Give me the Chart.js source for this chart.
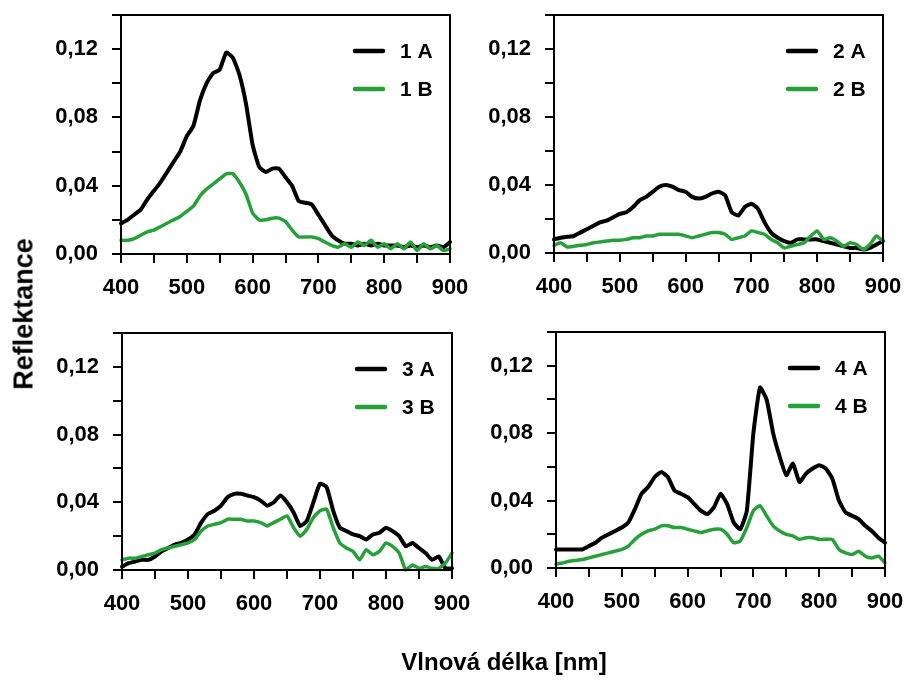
<!DOCTYPE html>
<html>
<head>
<meta charset="utf-8">
<script src="https://cdn.jsdelivr.net/npm/chart.js@4.4.1/dist/chart.umd.min.js"></script>
<style>
  html, body { margin: 0; padding: 0; background: #fff; }
  #wrap { position: relative; width: 906px; height: 680px; background: #fff; overflow: hidden; }
  #wrap canvas { position: absolute; left: 0; top: 0; }
  .ttl { position: absolute; font-family: "Liberation Sans", Arial, sans-serif; font-weight: bold; color: #000; white-space: nowrap; }
  #ytitle { font-size: 27px; left: 24px; top: 314px; transform: translate(-50%, -50%) rotate(-90deg); }
  #xtitle { font-size: 24px; left: 504px; top: 662px; transform: translate(-50%, -50%); }
</style>
</head>
<body>
<div id="wrap">
  <canvas id="c1" width="906" height="680"></canvas>
  <canvas id="c2" width="906" height="680"></canvas>
  <canvas id="c3" width="906" height="680"></canvas>
  <canvas id="c4" width="906" height="680"></canvas>
  <div id="ytitle" class="ttl">Reflektance</div>
  <div id="xtitle" class="ttl">Vlnová délka [nm]</div>
</div>
<script>
// ---------- data ----------
const wavelengths = [400,410,420,430,440,450,460,470,480,490,500,510,520,530,540,550,560,570,580,590,600,610,620,630,640,650,660,670,680,690,700,710,720,730,740,750,760,770,780,790,800,810,820,830,840,850,860,870,880,890,900];

const xTicks = [400, 500, 600, 700, 800, 900];
const yTicks = [0.00, 0.04, 0.08, 0.12];

const series1A = [0.018,0.020,0.023,0.026,0.032,0.037,0.042,0.048,0.054,0.060,0.069,0.075,0.090,0.100,0.106,0.108,0.118,0.115,0.105,0.088,0.064,0.051,0.048,0.050,0.050,0.045,0.040,0.031,0.030,0.029,0.023,0.017,0.011,0.008,0.006,0.006,0.005,0.006,0.005,0.006,0.005,0.005,0.005,0.004,0.005,0.004,0.005,0.004,0.005,0.004,0.007];
const series1B = [0.008,0.008,0.009,0.011,0.013,0.014,0.016,0.018,0.020,0.022,0.025,0.028,0.034,0.038,0.041,0.044,0.047,0.047,0.042,0.035,0.024,0.020,0.020,0.021,0.021,0.019,0.014,0.010,0.010,0.010,0.009,0.007,0.005,0.004,0.006,0.004,0.007,0.005,0.008,0.004,0.006,0.003,0.006,0.003,0.007,0.002,0.006,0.003,0.005,0.002,0.003];

const series2A = [0.008,0.009,0.0095,0.010,0.012,0.014,0.016,0.018,0.019,0.021,0.023,0.024,0.027,0.031,0.033,0.036,0.039,0.040,0.039,0.037,0.036,0.033,0.032,0.033,0.035,0.036,0.034,0.024,0.022,0.027,0.029,0.026,0.018,0.012,0.009,0.007,0.006,0.008,0.008,0.008,0.008,0.007,0.006,0.005,0.004,0.003,0.003,0.002,0.003,0.005,0.007];
const series2B = [0.0045,0.006,0.0035,0.004,0.0045,0.005,0.006,0.0065,0.007,0.0075,0.0075,0.008,0.009,0.009,0.010,0.010,0.011,0.011,0.011,0.011,0.010,0.009,0.010,0.011,0.012,0.012,0.011,0.008,0.009,0.010,0.013,0.012,0.011,0.008,0.006,0.003,0.004,0.005,0.006,0.010,0.013,0.008,0.009,0.007,0.004,0.006,0.005,0.002,0.005,0.010,0.007];

const series3A = [0.002,0.004,0.005,0.006,0.006,0.008,0.011,0.013,0.015,0.016,0.018,0.021,0.028,0.033,0.035,0.038,0.043,0.045,0.045,0.044,0.043,0.041,0.038,0.040,0.044,0.040,0.034,0.026,0.029,0.040,0.051,0.049,0.035,0.025,0.023,0.021,0.020,0.018,0.021,0.022,0.025,0.023,0.020,0.014,0.016,0.013,0.010,0.006,0.008,0.001,0.001];
const series3B = [0.006,0.007,0.007,0.008,0.009,0.010,0.012,0.013,0.014,0.015,0.016,0.018,0.023,0.026,0.027,0.028,0.030,0.030,0.030,0.029,0.029,0.028,0.026,0.028,0.030,0.032,0.025,0.020,0.024,0.031,0.035,0.036,0.025,0.016,0.013,0.011,0.006,0.012,0.009,0.011,0.016,0.014,0.010,0.000,0.003,0.001,0.002,0.001,0.001,0.004,0.010];

const series4A = [0.011,0.011,0.011,0.011,0.011,0.013,0.015,0.018,0.020,0.022,0.024,0.027,0.035,0.044,0.048,0.054,0.057,0.054,0.046,0.044,0.042,0.038,0.034,0.032,0.036,0.044,0.038,0.027,0.023,0.034,0.080,0.107,0.100,0.080,0.066,0.055,0.062,0.051,0.056,0.059,0.061,0.059,0.053,0.040,0.033,0.031,0.029,0.025,0.022,0.018,0.015];
const series4B = [0.0024,0.003,0.004,0.0045,0.005,0.006,0.007,0.008,0.009,0.010,0.011,0.013,0.017,0.020,0.022,0.023,0.025,0.025,0.024,0.024,0.023,0.022,0.021,0.022,0.023,0.023,0.020,0.015,0.016,0.024,0.034,0.037,0.031,0.025,0.022,0.020,0.019,0.017,0.018,0.018,0.017,0.017,0.017,0.011,0.009,0.008,0.010,0.007,0.006,0.007,0.003];

const panelLabels = [["1 A","1 B"],["2 A","2 B"],["3 A","3 B"],["4 A","4 B"]];
const panelSeries = [[series1A,series1B],[series2A,series2B],[series3A,series3B],[series4A,series4B]];

// ---------- layout / style ----------
const areas = [
  {l:121, t:15,  r:450, b:254},
  {l:554, t:15,  r:883, b:253},
  {l:122, t:333, r:452, b:570},
  {l:556, t:332, r:885, b:568}
];
const W = 906, H = 680, YW = 80, XH = 55;
const BLACK = '#000000', GREEN = '#26a038';
const tickFont = {family: '"Liberation Sans", Arial, sans-serif', size: 22, weight: 'bold'};

const framePlugin = {
  id: 'frame',
  afterDatasetsDraw(chart) {
    const {ctx, chartArea: a} = chart;
    ctx.save();
    ctx.strokeStyle = '#000';
    ctx.lineWidth = 2;
    ctx.strokeRect(a.left, a.top, a.right - a.left, a.bottom - a.top);
    // legend inside the plot area
    ctx.font = 'bold 21px "Liberation Sans", Arial, sans-serif';
    ctx.textBaseline = 'middle';
    ctx.textAlign = 'left';
    chart.data.datasets.forEach((ds, i) => {
      const y = a.top + 36 + i * 38;
      ctx.strokeStyle = ds.borderColor;
      ctx.lineWidth = 4.5;
      ctx.lineCap = 'round';
      ctx.beginPath();
      ctx.moveTo(a.right - 95, y);
      ctx.lineTo(a.right - 67, y);
      ctx.stroke();
      ctx.fillStyle = '#000';
      ctx.fillText(ds.label, a.right - 50, y + 1);
    });
    ctx.restore();
  }
};

function makeChart(idx) {
  const a = areas[idx];
  const [sA, sB] = panelSeries[idx];
  const [lA, lB] = panelLabels[idx];
  new Chart(document.getElementById('c' + (idx + 1)), {
    type: 'line',
    data: {
      datasets: [
        {label: lA, data: wavelengths.map((x, i) => ({x, y: sA[i]})), borderColor: BLACK, borderWidth: 4, pointRadius: 0, tension: 0.15, order: 1, borderJoinStyle: 'round', borderCapStyle: 'round'},
        {label: lB, data: wavelengths.map((x, i) => ({x, y: sB[i]})), borderColor: GREEN, borderWidth: 3.5, pointRadius: 0, tension: 0.15, order: 0, borderJoinStyle: 'round', borderCapStyle: 'round'}
      ]
    },
    options: {
      responsive: false,
      animation: false,
      devicePixelRatio: 1,
      clip: false,
      layout: {padding: {left: a.l - YW, top: a.t, right: W - a.r, bottom: H - a.b - XH}},
      plugins: {legend: {display: false}, tooltip: {enabled: false}},
      scales: {
        x: {
          type: 'linear', min: 400, max: 900,
          afterFit(s) { s.height = XH; s.paddingLeft = 0; s.paddingRight = 0; },
          grid: {drawOnChartArea: false, drawTicks: true, tickLength: 9, color: '#000', lineWidth: 2},
          border: {display: true, color: '#000', width: 2},
          ticks: {stepSize: 50, autoSkip: false, maxRotation: 0, color: '#000', font: tickFont, padding: 12,
                  callback: v => xTicks.includes(v) ? String(v) : ''}
        },
        y: {
          type: 'linear', min: 0, max: 0.14,
          afterFit(s) { s.width = YW; s.paddingTop = 0; s.paddingBottom = 0; },
          grid: {drawOnChartArea: false, drawTicks: true, tickLength: 9, color: '#000', lineWidth: 2},
          border: {display: true, color: '#000', width: 2},
          ticks: {stepSize: 0.02, autoSkip: false, color: '#000', font: tickFont, padding: 14,
                  callback: v => {
                    const m = yTicks.find(t => Math.abs(t - v) < 1e-6);
                    return m === undefined ? '' : m.toFixed(2).replace('.', ',');
                  }}
        }
      }
    },
    plugins: [framePlugin]
  });
}
[0,1,2,3].forEach(makeChart);
</script>
</body>
</html>
